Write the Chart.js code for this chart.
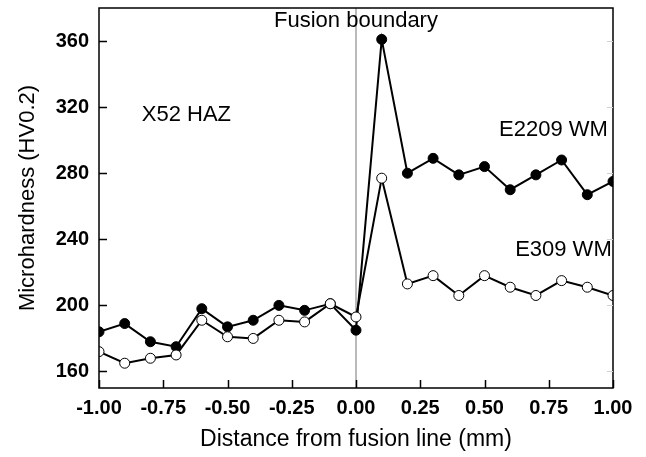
<!DOCTYPE html>
<html>
<head>
<meta charset="utf-8">
<script src="https://cdn.jsdelivr.net/npm/chart.js@4"></script>
<style>
  body { margin: 0; background: #fff; }
  #wrap { width: 646px; height: 457px; }
</style>
</head>
<body>
<div id="wrap"><canvas id="grafico" width="646" height="457"></canvas></div>
<script>
// distancia desde la linea de fusion (mm)
const distancias = [-1.0, -0.9, -0.8, -0.7, -0.6, -0.5, -0.4, -0.3, -0.2, -0.1, 0.0,
                    0.1, 0.2, 0.3, 0.4, 0.5, 0.6, 0.7, 0.8, 0.9, 1.0];
const durezaE2209 = [184, 189, 178, 175, 198, 187, 191, 200, 197, 201, 185,
                     361, 280, 289, 279, 284, 270, 279, 288, 267, 275];
const durezaE309 = [172, 165, 168, 170, 191, 181, 180, 191, 190, 201, 193,
                    277, 213, 218, 206, 218, 211, 206, 215, 211, 206];
const ticksX = [-1.0, -0.75, -0.5, -0.25, 0.0, 0.25, 0.5, 0.75, 1.0];
const ticksY = [160, 200, 240, 280, 320, 360];

// etiquetas de texto dentro del grafico
const notas = [
  { texto: 'Fusion boundary', x: 0.0, y: 372, align: 'center' },
  { texto: 'X52 HAZ', x: -0.66, y: 315, align: 'center' },
  { texto: 'E2209 WM', x: 0.98, y: 306, align: 'right' },
  { texto: 'E309 WM', x: 0.995, y: 233.5, align: 'right' }
];

const fuente = '"Liberation Sans", Arial, sans-serif';

function puntos(valores) {
  return distancias.map((d, i) => ({ x: d, y: valores[i] }));
}

const marco = {
  id: 'marco',
  beforeDatasetsDraw(chart) {
    const c = chart.ctx;
    const a = chart.chartArea;
    const sx = chart.scales.x;
    // linea vertical del limite de fusion
    c.save();
    c.strokeStyle = '#8c8c8c';
    c.lineWidth = 1.2;
    c.beginPath();
    c.moveTo(sx.getPixelForValue(0), a.top);
    c.lineTo(sx.getPixelForValue(0), a.bottom);
    c.stroke();
    c.restore();
  },
  afterDatasetsDraw(chart) {
    const c = chart.ctx;
    const a = chart.chartArea;
    const sx = chart.scales.x;
    const sy = chart.scales.y;
    c.save();
    c.strokeStyle = '#000';
    c.lineWidth = 1.5;
    c.strokeRect(a.left, a.top, a.right - a.left, a.bottom - a.top);
    c.beginPath();
    ticksX.forEach(v => {
      const px = Math.round(sx.getPixelForValue(v)) + 0.5;
      c.moveTo(px, a.bottom);
      c.lineTo(px, a.bottom - 8);
    });
    ticksY.forEach(v => {
      const py = Math.round(sy.getPixelForValue(v)) + 0.5;
      c.moveTo(a.left, py);
      c.lineTo(a.left + 8, py);
    });
    c.stroke();
    c.strokeStyle = '#d0d0d0';
    c.lineWidth = 1;
    c.beginPath();
    ticksY.forEach(v => {
      const py = Math.round(sy.getPixelForValue(v)) + 0.5;
      c.moveTo(a.right, py);
      c.lineTo(a.right - 6, py);
    });
    c.stroke();

    c.fillStyle = '#000';
    c.font = '22px ' + fuente;
    c.textBaseline = 'middle';
    notas.forEach(n => {
      c.textAlign = n.align;
      c.fillText(n.texto, sx.getPixelForValue(n.x), sy.getPixelForValue(n.y));
    });
    c.restore();
  }
};

const ctx = document.getElementById('grafico').getContext('2d');

const miGrafico = new Chart(ctx, {
  type: 'line',
  data: {
    datasets: [
      {
        label: 'E309 WM',
        data: puntos(durezaE309),
        borderColor: '#000',
        borderWidth: 2,
        pointRadius: 5,
        pointBackgroundColor: '#fff',
        pointBorderColor: '#000',
        pointBorderWidth: 1,
        order: 0
      },
      {
        label: 'E2209 WM',
        data: puntos(durezaE2209),
        borderColor: '#000',
        borderWidth: 2,
        pointRadius: 5,
        pointBackgroundColor: '#000',
        pointBorderColor: '#000',
        pointBorderWidth: 1,
        order: 1
      }
    ]
  },
  options: {
    responsive: false,
    animation: false,
    layout: { padding: { top: 8, right: 33, left: 0, bottom: 0 } },
    plugins: {
      legend: { display: false },
      tooltip: { enabled: false }
    },
    scales: {
      x: {
        type: 'linear',
        min: -1,
        max: 1,
        afterBuildTicks: s => { s.ticks = ticksX.map(v => ({ value: v })); },
        afterFit: s => { s.height = 69; s.paddingLeft = 0; s.paddingRight = 0; },
        grid: { display: false },
        border: { display: false },
        ticks: {
          color: '#000',
          padding: 0,
          maxRotation: 0,
          autoSkip: false,
          font: { family: fuente, size: 20, weight: 'bold' },
          callback: v => v.toFixed(2)
        },
        title: {
          display: true,
          text: 'Distance from fusion line (mm)',
          color: '#000',
          padding: { top: 3 },
          font: { family: fuente, size: 23 }
        }
      },
      y: {
        min: 150,
        max: 380,
        afterBuildTicks: s => { s.ticks = ticksY.map(v => ({ value: v })); },
        afterFit: s => { s.width = 99; s.paddingTop = 0; s.paddingBottom = 0; },
        grid: { display: false },
        border: { display: false },
        ticks: {
          color: '#000',
          padding: 2,
          font: { family: fuente, size: 20, weight: 'bold' }
        },
        title: {
          display: true,
          text: 'Microhardness (HV0.2)',
          color: '#000',
          padding: { top: 15 },
          font: { family: fuente, size: 22 }
        }
      }
    }
  },
  plugins: [marco]
});
</script>
</body>
</html>
